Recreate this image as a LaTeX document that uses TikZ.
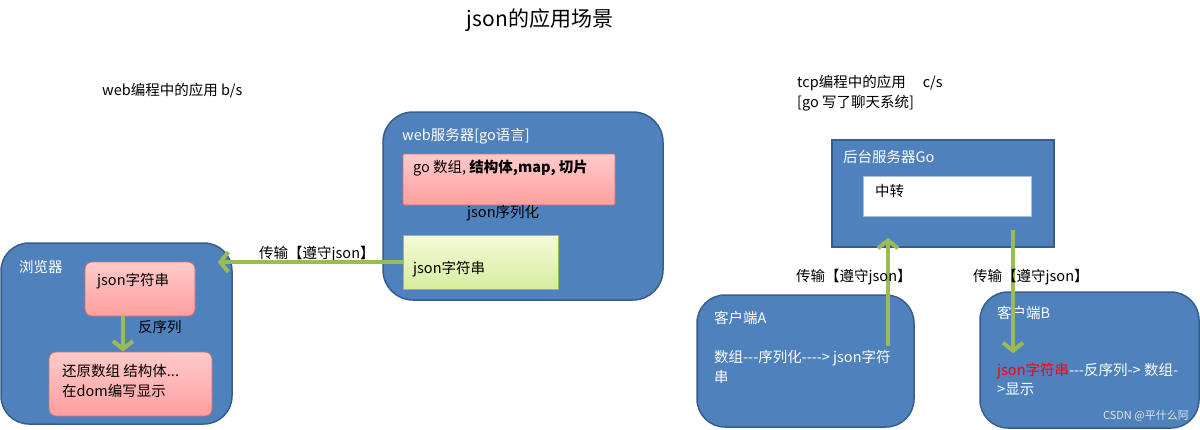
\documentclass[tikz,border=0pt]{standalone}
\usepackage{fontspec}
\setmainfont{Noto Sans CJK SC}[Ligatures=TeXOff]
\usetikzlibrary{arrows.meta}
\definecolor{boxblue}{HTML}{4F81BD}
\definecolor{boxedge}{HTML}{385D8A}
\definecolor{pinkedge}{HTML}{D0706E}
\definecolor{pinktop}{HTML}{FFCACA}
\definecolor{pinkbot}{HTML}{FF9F9F}
\definecolor{greentop}{HTML}{F5FBDA}
\definecolor{greenbot}{HTML}{D6EC9E}
\definecolor{greenedge}{HTML}{9BBB59}
\definecolor{arrowgreen}{HTML}{9BBB59}
\definecolor{relayedge}{HTML}{A6BDDB}

\begin{document}
\begin{tikzpicture}[x=1pt,y=-1pt,
  every node/.style={inner sep=0pt, font=\fontsize{14.5}{19.5}\selectfont},
  bluebox/.style={draw=boxedge, fill=boxblue, line width=1.5pt, rounded corners=28pt},
  pinkbox/.style={draw=pinkedge, top color=pinktop, bottom color=pinkbot, line width=0.8pt, rounded corners=7pt},
  greenbox/.style={draw=greenedge, top color=greentop, bottom color=greenbot, line width=0.8pt},
  whitetext/.style={text=white, anchor=west, align=left},
  note/.style={anchor=west, align=left},
  greenarrow/.style={draw=arrowgreen, line width=4pt, -{Straight Barb[length=8pt,width=20pt]}}]
\useasboundingbox (0,0) rectangle (1200,429);
\node (title) [font=\fontsize{21}{24}\selectfont] at (540,20) {json的应用场景};
\node (webhead) [note] at (102,91) {web编程中的应用 b/s};
\node (tcphead) [note] at (797,93) {tcp编程中的应用\hspace{17pt}c/s\\{}[go 写了聊天系统]};
% browser side
\node (browser) [bluebox, minimum width=231pt, minimum height=181pt] at (116.5,333.5) {};
\node (browsername) [whitetext] at (19,267) {浏览器};
\node (bjson) [pinkbox, minimum width=110pt, minimum height=54pt] at (140,289) {};
\node (bjsontext) [note] at (97,281) {json字符串};
\node (brestore) [pinkbox, minimum width=163pt, minimum height=64pt] at (130.5,384) {};
\node (brestoretext) [note] at (62,381) {还原数组 结构体...\\在dom编写显示};
\node (deserial) [note] at (138,327) {反序列};
% web server
\node (server) [bluebox, rounded corners=30pt, minimum width=280pt, minimum height=188pt] at (523,206) {};
\node (servername) [whitetext] at (402,136) {web服务器[go语言]};
\node (gobox) [pinkbox, rounded corners=1pt, minimum width=212pt, minimum height=51pt] at (509,179.5) {};
\node (goboxtext) [note] at (413,168) {go 数组, \textbf{结构体,map, 切片}};
\node (serial) [note] at (467,213) {json序列化};
\node (jsonbox) [greenbox, minimum width=155pt, minimum height=54pt] at (480.5,262) {};
\node (jsonboxtext) [note] at (413,269) {json字符串};
\node (webtrans) [note] at (259,254) {传输【遵守json】};
% tcp side
\node (backend) [draw=boxedge, fill=boxblue, line width=1.5pt, minimum width=222pt, minimum height=107pt] at (943,193.5) {};
\node (backendname) [whitetext] at (843,157) {后台服务器Go};
\node (relay) [draw=relayedge, fill=white, line width=0.8pt, minimum width=168pt, minimum height=40pt] at (947,196) {};
\node (relaytext) [note] at (875,191) {中转};
\node (clienta) [bluebox, minimum width=217pt, minimum height=132pt] at (805.5,361) {};
\node (clientaname) [whitetext] at (714,318) {客户端A};
\node (clientatext) [whitetext] at (714,367) {数组---序列化----> json字符\\串};
\node (clientb) [bluebox, minimum width=219pt, minimum height=136pt] at (1089.5,360) {};
\node (clientbname) [whitetext] at (997,313) {客户端B};
\node (clientbtext) [whitetext] at (997,379.5) {\textcolor{red}{json字符串}---反序列-> 数组-\\>显示};
\node (mark) [anchor=east, text=white!78!gray, font=\fontsize{11}{13}\selectfont] at (1189,416) {CSDN @平什么阿};
% arrows
\coordinate (dfoot) at ([xshift=-17pt]bjson.south);
\draw [greenarrow] (dfoot) -- (dfoot |- brestore.north);
\coordinate (ttip) at ([xshift=-15pt]browser.east);
\draw [greenarrow] (jsonbox.west) -- (jsonbox.west -| ttip);
\coordinate (afoot) at ([xshift=82.5pt,yshift=-52pt]clienta.north);
\coordinate (atip) at ([yshift=10pt]backend.south);
\draw [greenarrow] (afoot) -- (afoot |- atip);
\coordinate (bfoot) at ([xshift=70pt,yshift=18pt]backend.south);
\coordinate (btip) at ([yshift=-62pt]clientb.north);
\draw [greenarrow] (bfoot) -- (bfoot |- btip);
\node (uptrans) [note] at (796,277) {传输【遵守json】};
\node (downtrans) [note] at (973,277) {传输【遵守json】};
\end{tikzpicture}
\end{document}
